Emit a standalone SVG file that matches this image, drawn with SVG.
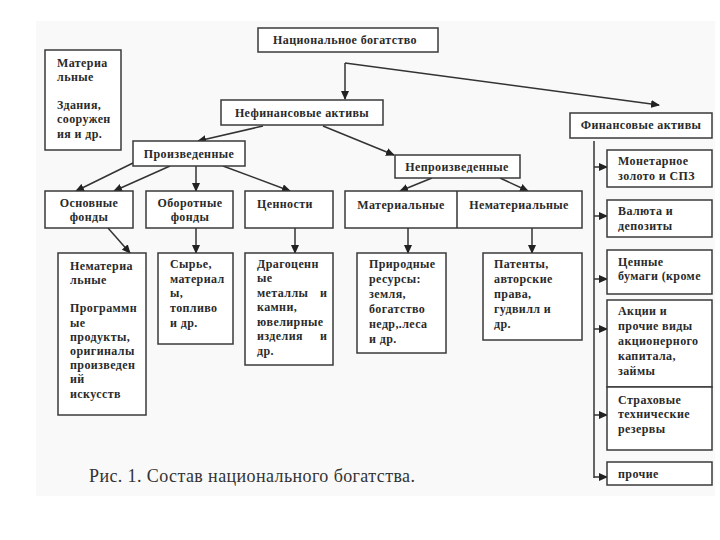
<svg xmlns="http://www.w3.org/2000/svg" width="720" height="540" viewBox="0 0 720 540">
<style>
.box{fill:#ffffff;stroke:#3a3a3a;stroke-width:1.5}
.t{font-family:"Liberation Serif","DejaVu Serif",serif;font-size:12px;font-weight:bold;fill:#2a2a2a;letter-spacing:0.4px}
.c{text-anchor:middle}
.ln{fill:none;stroke:#333;stroke-width:1.5}
.cap{font-family:"Liberation Serif","DejaVu Serif",serif;font-size:18px;fill:#333}
</style>
<defs>
<marker id="ah" markerWidth="9" markerHeight="8" refX="8" refY="4" orient="auto" markerUnits="userSpaceOnUse">
<path d="M0,0 L9,4 L0,8 Z" fill="#222"/>
</marker>
</defs>
<rect x="0" y="0" width="720" height="540" fill="#ffffff"/>
<rect x="36" y="21" width="679" height="475" fill="#f9f9f9"/>

<g id="connectors">
<path class="ln" d="M345,63 V99" marker-end="url(#ah)"/>
<path class="ln" d="M345,63 L659,105" marker-end="url(#ah)"/>
<path class="ln" d="M263,126 L198,141" marker-end="url(#ah)"/>
<path class="ln" d="M323,126 L394,155" marker-end="url(#ah)"/>
<path class="ln" d="M133,163 L76,191" marker-end="url(#ah)"/>
<path class="ln" d="M170,166 L114,191" marker-end="url(#ah)"/>
<path class="ln" d="M196,166 V191" marker-end="url(#ah)"/>
<path class="ln" d="M223,166 L290,191" marker-end="url(#ah)"/>
<path class="ln" d="M432,178 L400,191" marker-end="url(#ah)"/>
<path class="ln" d="M500,178 L528,191" marker-end="url(#ah)"/>
<path class="ln" d="M108,228 L130,253" marker-end="url(#ah)"/>
<path class="ln" d="M196,228 V253" marker-end="url(#ah)"/>
<path class="ln" d="M295,228 V253" marker-end="url(#ah)"/>
<path class="ln" d="M408,228 V253" marker-end="url(#ah)"/>
<path class="ln" d="M532,228 V253" marker-end="url(#ah)"/>
<path class="ln" d="M594,141 V478"/>
<path class="ln" d="M594,167 H607" marker-end="url(#ah)"/>
<path class="ln" d="M594,216 H607" marker-end="url(#ah)"/>
<path class="ln" d="M594,279 H607" marker-end="url(#ah)"/>
<path class="ln" d="M594,329 H607" marker-end="url(#ah)"/>
<path class="ln" d="M594,415 H607" marker-end="url(#ah)"/>
<path class="ln" d="M594,477 H607" marker-end="url(#ah)"/>
</g>

<g id="n-national">
<rect class="box" x="258" y="28" width="180" height="24"/>
<text class="t c" x="345" y="44">Национальное богатство</text>
</g>

<g id="n-material-left">
<rect class="box" x="45" y="50" width="76" height="100"/>
<text class="t" x="57" y="67">Материа</text>
<text class="t" x="57" y="81">льные</text>
<text class="t" x="57" y="109">Здания,</text>
<text class="t" x="57" y="123">сооружен</text>
<text class="t" x="57" y="138">ия и др.</text>
</g>

<g id="n-nonfin">
<rect class="box" x="221" y="100" width="162" height="25"/>
<text class="t c" x="302" y="117">Нефинансовые активы</text>
</g>

<g id="n-fin">
<rect class="box" x="570" y="113" width="142" height="25"/>
<text class="t c" x="641" y="129">Финансовые активы</text>
</g>

<g id="n-produced">
<rect class="box" x="133" y="141" width="112" height="25"/>
<text class="t c" x="189" y="158">Произведенные</text>
</g>

<g id="n-nonproduced">
<rect class="box" x="395" y="155" width="125" height="23"/>
<text class="t c" x="457" y="171">Непроизведенные</text>
</g>

<g id="n-fixed">
<rect class="box" x="45" y="191" width="88" height="37"/>
<text class="t c" x="89" y="207">Основные</text>
<text class="t c" x="89" y="221">фонды</text>
</g>

<g id="n-working">
<rect class="box" x="146" y="191" width="87" height="37"/>
<text class="t c" x="190" y="207">Оборотные</text>
<text class="t c" x="190" y="221">фонды</text>
</g>

<g id="n-valuables">
<rect class="box" x="245" y="191" width="88" height="37"/>
<text class="t" x="257" y="208">Ценности</text>
</g>

<g id="n-mat-immat">
<rect class="box" x="345" y="191" width="237" height="37"/>
<line class="ln" x1="457" y1="191" x2="457" y2="228"/>
<text class="t c" x="401" y="209">Материальные</text>
<text class="t c" x="519" y="209">Нематериальные</text>
</g>

<g id="n-intangible">
<rect class="box" x="58" y="253" width="88" height="162"/>
<text class="t" x="70" y="270">Нематериа</text>
<text class="t" x="70" y="284">льные</text>
<text class="t" x="70" y="312">Программн</text>
<text class="t" x="70" y="327">ые</text>
<text class="t" x="70" y="341">продукты,</text>
<text class="t" x="70" y="355">оригиналы</text>
<text class="t" x="70" y="369">произведен</text>
<text class="t" x="70" y="383">ий</text>
<text class="t" x="70" y="398">искусств</text>
</g>

<g id="n-raw">
<rect class="box" x="158" y="253" width="75" height="91"/>
<text class="t" x="170" y="268">Сырье,</text>
<text class="t" x="170" y="283">материал</text>
<text class="t" x="170" y="297">ы,</text>
<text class="t" x="170" y="312">топливо</text>
<text class="t" x="170" y="327">и др.</text>
</g>

<g id="n-precious">
<rect class="box" x="245" y="253" width="88" height="112"/>
<text class="t" x="257" y="268">Драгоценн</text>
<text class="t" x="257" y="282">ые</text>
<text class="t" x="257" y="297">металлы</text>
<text class="t" x="320" y="297">и</text>
<text class="t" x="257" y="311">камни,</text>
<text class="t" x="257" y="326">ювелирные</text>
<text class="t" x="257" y="340">изделия</text>
<text class="t" x="320" y="340">и</text>
<text class="t" x="257" y="355">др.</text>
</g>

<g id="n-natural">
<rect class="box" x="357" y="253" width="89" height="100"/>
<text class="t" x="369" y="268">Природные</text>
<text class="t" x="369" y="283">ресурсы:</text>
<text class="t" x="369" y="298">земля,</text>
<text class="t" x="369" y="313">богатство</text>
<text class="t" x="369" y="328">недр,.леса</text>
<text class="t" x="369" y="343">и др.</text>
</g>

<g id="n-patents">
<rect class="box" x="483" y="253" width="99" height="87"/>
<text class="t" x="494" y="268">Патенты,</text>
<text class="t" x="494" y="283">авторские</text>
<text class="t" x="494" y="298">права,</text>
<text class="t" x="494" y="313">гудвилл и</text>
<text class="t" x="494" y="328">др.</text>
</g>

<g id="n-gold">
<rect class="box" x="607" y="150" width="105" height="37"/>
<text class="t" x="618" y="165">Монетарное</text>
<text class="t" x="618" y="180">золото и СПЗ</text>
</g>

<g id="n-currency">
<rect class="box" x="607" y="200" width="105" height="37"/>
<text class="t" x="618" y="215">Валюта и</text>
<text class="t" x="618" y="230">депозиты</text>
</g>

<g id="n-securities">
<rect class="box" x="607" y="250" width="105" height="44"/>
<text class="t" x="618" y="266">Ценные</text>
<text class="t" x="618" y="280">бумаги (кроме</text>
</g>

<g id="n-shares">
<rect class="box" x="607" y="300" width="105" height="87"/>
<text class="t" x="618" y="315">Акции и</text>
<text class="t" x="618" y="330">прочие виды</text>
<text class="t" x="618" y="345">акционерного</text>
<text class="t" x="618" y="360">капитала,</text>
<text class="t" x="618" y="375">займы</text>
</g>

<g id="n-insurance">
<rect class="box" x="607" y="387" width="105" height="63"/>
<text class="t" x="618" y="404">Страховые</text>
<text class="t" x="618" y="418">технические</text>
<text class="t" x="618" y="433">резервы</text>
</g>

<g id="n-other">
<rect class="box" x="607" y="462" width="105" height="23"/>
<text class="t" x="618" y="478">прочие</text>
</g>

<text class="cap" x="89" y="482" textLength="326" lengthAdjust="spacing">Рис. 1. Состав национального богатства.</text>
</svg>
